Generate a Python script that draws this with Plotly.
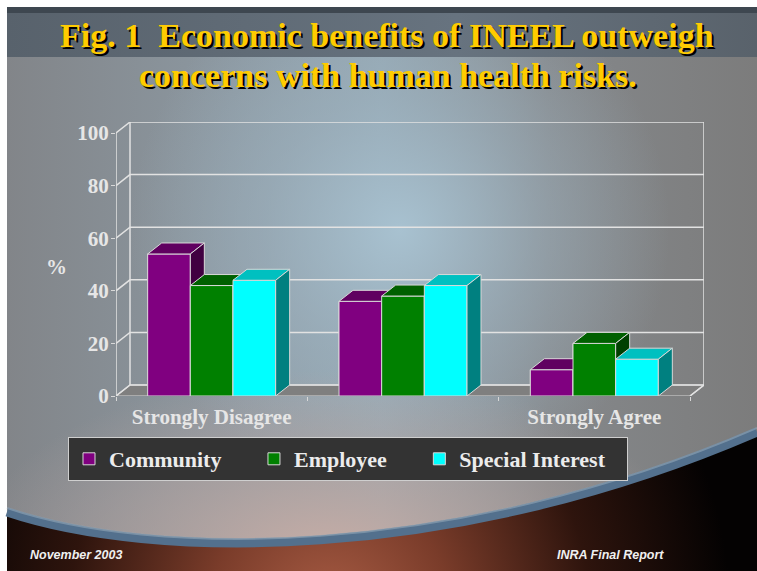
import base64
import plotly.graph_objects as go

# ---------------- data ----------------
categories = ["Strongly Disagree", "Neutral", "Strongly Agree"]
tick_labels = ["Strongly Disagree", "", "Strongly Agree"]
series_names = ["Community", "Employee", "Special Interest"]
community = [54, 36, 10]
employee = [42, 38, 20]
special = [44, 42, 14]
y_ticks = [0, 20, 40, 60, 80, 100]

# ---------------- styling ----------------
W, H = 757, 571
front_colors = ["#800080", "#008000", "#00FFFF"]
top_colors = ["#600060", "#006000", "#00C0C0"]
side_colors = ["#400040", "#004000", "#008080"]
edge = "#d8d8d8"
txt = "#e6e6e6"
serif = "Liberation Serif"

px_left, px_front_right, px_back_right = 116, 690, 704
py_zero, py_top = 396, 122
ncat = len(categories)
x_unit = (px_front_right - px_left) / ncat
DX = (px_back_right - px_front_right) / x_unit
y_unit = (py_zero - 133) / 100.0
DY = 11 / y_unit
BAR_W = 0.223

values = [community, employee, special]

fig = go.Figure()

fig.add_trace(go.Scatter(
    x=[0, ncat, ncat + DX, DX, 0], y=[0, 0, DY, DY, 0], mode="lines",
    fill="toself", fillcolor="#7f7f7f", line=dict(color=edge, width=1.2),
    hoverinfo="skip", showlegend=False))

gx, gy = [], []
for v in y_ticks:
    gx += [0, DX, ncat + DX, None]
    gy += [v, v + DY, v + DY, None]
gx += [DX, DX, None, ncat + DX, ncat + DX, None, 0, 0, None, ncat, ncat + DX, None]
gy += [DY, 100 + DY, None, DY, 100 + DY, None, 0, 100, None, 0, DY, None]
fig.add_trace(go.Scatter(x=gx, y=gy, mode="lines",
                         line=dict(color="#e2e2e2", width=1.5),
                         hoverinfo="skip", showlegend=False))

nb = "\u00a0"
legend_pads = [nb * 5, nb * 5, nb * 3]
for i, (name, vals) in enumerate(zip(series_names, values)):
    fig.add_trace(go.Bar(
        x=[j + 0.5 for j in range(ncat)], y=vals, name=name + legend_pads[i],
        width=BAR_W, offset=-1.5 * BAR_W + i * BAR_W,
        marker=dict(color=front_colors[i], line=dict(color=edge, width=1))))

for i, vals in enumerate(values):
    fx, fy, tx, ty, sx, sy = [], [], [], [], [], []
    for j, v in enumerate(vals):
        xl = j + 0.5 - 1.5 * BAR_W + i * BAR_W
        xr = xl + BAR_W
        fx += [xl, xr, xr, xl, xl, None]
        fy += [0, 0, v, v, 0, None]
        tx += [xl, xr, xr + DX, xl + DX, xl, None]
        ty += [v, v, v + DY, v + DY, v, None]
        sx += [xr, xr + DX, xr + DX, xr, xr, None]
        sy += [0, DY, v + DY, v, 0, None]
    for px_, py_, col in [(fx, fy, front_colors[i]), (tx, ty, top_colors[i]),
                          (sx, sy, side_colors[i])]:
        fig.add_trace(go.Scatter(x=px_, y=py_, mode="lines", fill="toself",
                                 fillcolor=col, line=dict(color=edge, width=1),
                                 hoverinfo="skip", showlegend=False))

svg = f"""<svg xmlns='http://www.w3.org/2000/svg' width='{W}' height='{H}' viewBox='0 0 {W} {H}'>
<defs>
<linearGradient id='base' x1='0' y1='0' x2='1' y2='0'>
<stop offset='0' stop-color='#828589'/>
<stop offset='0.3' stop-color='#8c98a1'/>
<stop offset='0.5' stop-color='#93a5b0'/>
<stop offset='0.72' stop-color='#85888b'/>
<stop offset='1' stop-color='#7c7c7c'/>
</linearGradient>
<radialGradient id='glow' cx='400' cy='230' r='270' gradientUnits='userSpaceOnUse'>
<stop offset='0' stop-color='#a9c3d2' stop-opacity='0.95'/>
<stop offset='0.5' stop-color='#a0b6c4' stop-opacity='0.5'/>
<stop offset='1' stop-color='#a0b6c4' stop-opacity='0'/>
</radialGradient>
<linearGradient id='band' x1='0' y1='0' x2='1' y2='0'>
<stop offset='0' stop-color='#58626c'/>
<stop offset='0.6' stop-color='#67737f'/>
<stop offset='1' stop-color='#59626b'/>
</linearGradient>
<radialGradient id='bowl' cx='330' cy='560' r='190' gradientUnits='userSpaceOnUse'
 gradientTransform='translate(330 560) scale(1.9 1) translate(-330 -560)'>
<stop offset='0' stop-color='#caaea6' stop-opacity='1'/>
<stop offset='0.55' stop-color='#b9a5a0' stop-opacity='0.55'/>
<stop offset='1' stop-color='#b8a4a0' stop-opacity='0'/>
</radialGradient>
<radialGradient id='dark' cx='330' cy='610' r='400' gradientUnits='userSpaceOnUse'>
<stop offset='0' stop-color='#a85c44'/>
<stop offset='0.3' stop-color='#7a3c2a'/>
<stop offset='0.65' stop-color='#2e140d'/>
<stop offset='1' stop-color='#040202'/>
</radialGradient>
</defs>
<rect width='{W}' height='{H}' fill='#ffffff'/>
<rect x='7' y='7' width='750' height='564' fill='url(#base)'/>
<rect x='7' y='7' width='750' height='564' fill='url(#glow)'/>
<rect x='7' y='7' width='750' height='564' fill='url(#bowl)'/>
<rect x='7' y='7' width='750' height='50' fill='url(#band)'/>
<rect x='7' y='7' width='750' height='6' fill='#3e4750'/>
<path d='M7 512 C150 560 450 565 757 432 L757 571 L7 571 Z' fill='url(#dark)'/>
<path d='M7 512 C150 560 450 565 757 432' fill='none' stroke='#53708d' stroke-width='9'/>
<path d='M7 508 C150 556 450 561 757 428' fill='none' stroke='#93a7b8' stroke-width='2' opacity='0.6'/>
</svg>"""
src = "data:image/svg+xml;base64," + base64.b64encode(svg.encode()).decode()


def px2x(p):
    return p / W


def px2y(p):
    return 1 - p / H


fig.update_layout(
    width=W, height=H, autosize=False,
    margin=dict(l=0, r=0, t=0, b=0, pad=0, autoexpand=False),
    paper_bgcolor="#ffffff",
    plot_bgcolor="rgba(0,0,0,0)",
    barmode="overlay",
    images=[dict(source=src, xref="paper", yref="paper", x=0, y=1,
                 sizex=1, sizey=1, xanchor="left", yanchor="top",
                 sizing="stretch", layer="below")],
    xaxis=dict(domain=[px2x(px_left), px2x(px_back_right)], automargin=False,
               range=[0, ncat + DX], showgrid=False, zeroline=False,
               showline=False, tickmode="array",
               tickvals=[j + 0.5 for j in range(ncat)], ticktext=tick_labels,
               ticks="", ticklabelstandoff=6,
               tickfont=dict(family=serif, size=21, color=txt, weight="bold"),
               minor=dict(tickmode="array", tickvals=list(range(ncat + 1)),
                          ticks="outside", ticklen=4, tickcolor=edge, showgrid=False)),
    yaxis=dict(domain=[px2y(py_zero), px2y(py_top)], automargin=False,
               range=[0, 100 + DY], showgrid=False, zeroline=False,
               showline=False, tickmode="array", tickvals=y_ticks,
               ticks="outside", ticklen=4, tickcolor=edge, ticklabelstandoff=-2,
               tickfont=dict(family=serif, size=21, color=txt, weight="bold")),
    legend=dict(orientation="h", x=px2x(68), y=px2y(437),
                xanchor="left", yanchor="top", bgcolor="#333333",
                bordercolor="#cfcfcf", borderwidth=1,
                font=dict(family=serif, size=22, color="#ececec", weight="bold")),
    showlegend=True,
    annotations=[
        dict(text="Fig. 1" + nb + nb + "Economic benefits of INEEL outweigh",
             x=px2x(387), y=px2y(35), xref="paper", yref="paper",
             xanchor="center", yanchor="middle", showarrow=False,
             font=dict(family=serif, size=34, color="#FFCC00", weight="bold",
                       shadow="2px 2px 0px #000000")),
        dict(text="concerns with human health risks.",
             x=px2x(388), y=px2y(76), xref="paper", yref="paper",
             xanchor="center", yanchor="middle", showarrow=False,
             font=dict(family=serif, size=34, color="#FFCC00", weight="bold",
                       shadow="2px 2px 0px #000000")),
        dict(text="%", x=px2x(56), y=px2y(267), xref="paper", yref="paper",
             xanchor="center", yanchor="middle", showarrow=False,
             font=dict(family=serif, size=21, color=txt, weight="bold")),
        dict(text="November 2003", x=px2x(28), y=px2y(555), xref="paper",
             yref="paper", xanchor="left", yanchor="middle", showarrow=False,
             font=dict(family="Liberation Sans", size=12.5, color="#f0f0f0",
                       weight="bold", style="italic")),
        dict(text="INRA Final Report", x=px2x(555), y=px2y(555), xref="paper",
             yref="paper", xanchor="left", yanchor="middle", showarrow=False,
             font=dict(family="Liberation Sans", size=12.5, color="#f0f0f0",
                       weight="bold", style="italic")),
    ],
)

fig.write_html("out.html")
